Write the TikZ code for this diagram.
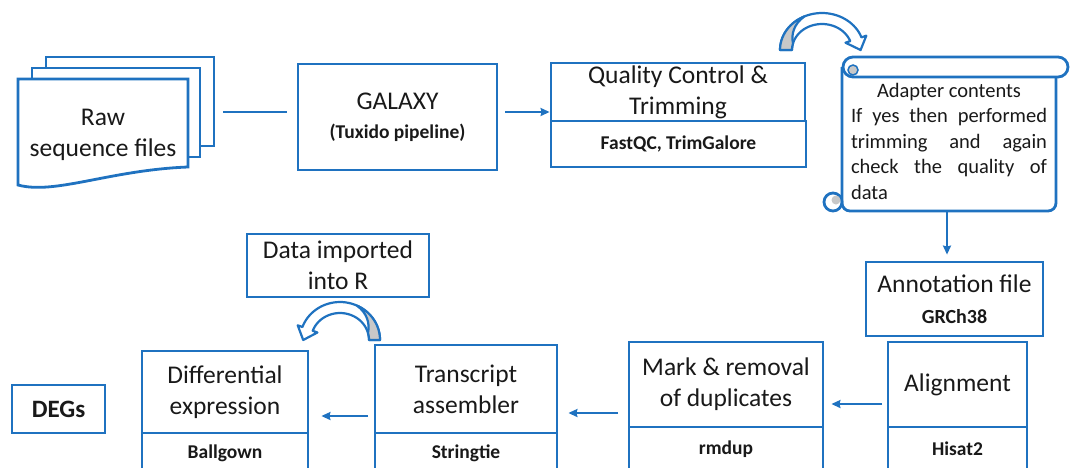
\documentclass[tikz,border=0pt]{standalone}
\usepackage{fontspec}
\setmainfont{Carlito}
\usetikzlibrary{arrows.meta}
\definecolor{bl}{RGB}{31,114,192}
\definecolor{gr}{RGB}{200,200,200}
\definecolor{tx}{RGB}{25,25,25}
\begin{document}
\begin{tikzpicture}[x=1pt,y=-1pt,
  box/.style={draw=bl, line width=2.8pt, fill=white, align=center, text=tx, inner sep=0pt,
              font=\fontsize{25.5}{31}\selectfont},
  small/.style={font=\bfseries\fontsize{19.5}{24}\selectfont},
  shp/.style={draw=bl, line width=2.8pt, fill=white},
  conn/.style={draw=bl, line width=2.3pt},
  arr/.style={conn, -{Stealth[length=9pt,width=8pt,inset=1pt]}},
  curv/.style={draw=bl, line width=2.2pt, fill=white, line join=round}]
\useasboundingbox (0,0) rectangle (1070,467);
\clip (0,0) rectangle (1070,467);

% raw sequence files (stacked documents)
\draw[shp] (46,57) rectangle (214,146);
\draw[shp] (32,68) rectangle (200,157);
\draw[shp] (18,79) -- (188,79) -- (188,167) .. controls (110,170) and (55,195) .. (18,185) -- cycle;
\node[text=tx, align=center, font=\fontsize{25.5}{31}\selectfont] (raw) at (103,135) {Raw\\sequence files};

% GALAXY
\node[box, minimum width=199pt, minimum height=106pt] (galaxy) at (397.5,117)
  {GALAXY\\[-2pt]{\bfseries\fontsize{19.5}{24}\selectfont (Tuxido pipeline)}};

% QC
\node[box, minimum width=254pt, minimum height=58pt] (qc) at (678,92) {Quality Control \&\\Trimming};
\node[box, small, minimum width=255pt, minimum height=46pt] (qctools) at (678.5,144) {FastQC, TrimGalore};

% scroll
\draw[shp, rounded corners=8pt] (842,67) -- (842,211) -- (1056,211) -- (1056,67);
\draw[shp] (833,202) circle (9);
\fill[gr] (836,200) circle (4.5);
\draw[shp, rounded corners=10pt] (843,57) rectangle (1068,77);
\filldraw[draw=bl, line width=1.5pt, fill=gr] (853,70) circle (5);
\node[text=tx, align=left, inner sep=0pt, font=\fontsize{20.5}{25.5}\selectfont] (adapter) at (949,141)
  {\makebox[196pt]{Adapter contents}\\
   \makebox[196pt][s]{If yes then performed}\\
   \makebox[196pt][s]{trimming and again}\\
   \makebox[196pt][s]{check the quality of}\\
   data};

% top curved arrow
\draw[curv] plot[domain=180:20, samples=40] ({822+42*cos(\x)},{50-37*sin(\x)})
  -- (866.3,35.7) -- (860.6,50) -- (845.5,42.7)
  -- plot[domain=20:180, samples=40] ({822+30*cos(\x)},{50-26*sin(\x)}) -- cycle;
\filldraw[curv, fill=gr] plot[domain=180:115, samples=20] ({822+42*cos(\x)},{50-37*sin(\x)})
  .. controls (794,24) and (791,34) .. (793,43.3)
  -- plot[domain=165:180, samples=8] ({822+30*cos(\x)},{50-26*sin(\x)}) -- cycle;

% annotation
\node[box, minimum width=177pt, minimum height=74pt] (annot) at (954.5,299)
  {Annotation file\\[0pt]{\bfseries\fontsize{20}{24}\selectfont GRCh38}};

% bottom row
\node[box, minimum width=139pt, minimum height=85pt] (align) at (957.5,384.5) {Alignment};
\node[box, small, minimum width=139pt, minimum height=44pt] (hisat) at (957.5,449) {Hisat2};
\node[box, minimum width=194pt, minimum height=85pt] (mark) at (726,384.5) {Mark \& removal\\of duplicates};
\node[box, small, minimum width=194pt, minimum height=44pt] (rmdup) at (726,449) {rmdup};
\node[box, minimum width=182pt, minimum height=88pt] (trans) at (466,389) {Transcript\\assembler};
\node[box, small, minimum width=182pt, minimum height=40pt] (stringtie) at (466,453) {Stringtie};
\node[box, minimum width=166pt, minimum height=82pt] (diff) at (225,392) {Differential\\expression};
\node[box, small, minimum width=166pt, minimum height=40pt] (ballgown) at (225,453) {Ballgown};
\node[box, minimum width=93pt, minimum height=48pt, font=\bfseries\fontsize{25}{30}\selectfont] (degs) at (58.5,409) {DEGs};
\node[box, minimum width=182pt, minimum height=63pt] (datar) at (338,265.5) {Data imported\\into R};

% bottom curved arrow
\draw[curv] plot[domain=0:160, samples=40] ({340+40*cos(\x)},{340-38*sin(\x)})
  -- (297.7,325.3) -- (303.2,340) -- (317.4,332.5)
  -- plot[domain=160:0, samples=40] ({340+29*cos(\x)},{340-27*sin(\x)}) -- cycle;
\filldraw[curv, fill=gr] plot[domain=0:65, samples=20] ({340+40*cos(\x)},{340-38*sin(\x)})
  .. controls (367,313) and (370,323) .. (368,333)
  -- plot[domain=15:0, samples=8] ({340+29*cos(\x)},{340-27*sin(\x)}) -- cycle;

% connectors
\coordinate (r1) at (223,112);
\coordinate (r2) at (287,112);
\draw[conn] (r1) -- (r2);
\coordinate (g1) at (505,112);
\draw[arr] (g1) -- (g1 -| qc.west);
\coordinate (s1) at (947,212);
\draw[arr, shorten >=6pt] (s1) -- (s1 |- annot.north);
\coordinate (a1) at (882,404);
\draw[arr, shorten >=7pt] (a1) -- (a1 -| mark.east);
\coordinate (m1) at (618,413);
\draw[arr, shorten >=10pt] (m1) -- (m1 -| trans.east);
\coordinate (t1) at (368,416);
\draw[arr, shorten >=12pt] (t1) -- (t1 -| diff.east);
\end{tikzpicture}
\end{document}
